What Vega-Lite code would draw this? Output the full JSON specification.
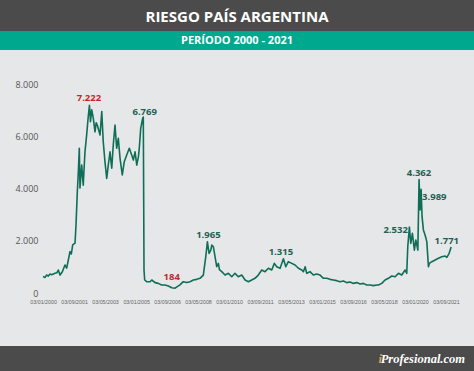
{
  "$schema": "https://vega.github.io/schema/vega-lite/v6.json",
  "background": "#e6e7e9",
  "padding": 0,
  "spacing": 0,
  "config": {"view": {"stroke": null}, "concat": {"spacing": 0}, "axisX": {"labelOverlap": false}},
  "datasets": {
    "riesgo": [
      {"fecha":"2000-01-01","puntos":630},{"fecha":"2000-02-10","puntos":600},{"fecha":"2000-03-12","puntos":690},{"fecha":"2000-04-15","puntos":650},
      {"fecha":"2000-05-16","puntos":730},{"fecha":"2000-06-20","puntos":700},{"fecha":"2000-08-23","puntos":757},{"fecha":"2000-10-01","puntos":780},
      {"fecha":"2000-10-27","puntos":885},{"fecha":"2000-11-30","puntos":690},{"fecha":"2001-01-15","puntos":820},{"fecha":"2001-03-07","puntos":1077},
      {"fecha":"2001-04-10","puntos":960},{"fecha":"2001-05-10","puntos":1250},{"fecha":"2001-06-14","puntos":1590},{"fecha":"2001-07-10","puntos":1500},
      {"fecha":"2001-08-06","puntos":1850},{"fecha":"2001-09-21","puntos":1920},{"fecha":"2001-10-10","puntos":2615},{"fecha":"2001-11-05","puntos":3900},
      {"fecha":"2001-11-25","puntos":4665},{"fecha":"2001-12-14","puntos":5565},{"fecha":"2001-12-27","puntos":4040},{"fecha":"2002-01-30","puntos":4920},
      {"fecha":"2002-03-01","puntos":4150},{"fecha":"2002-04-04","puntos":5430},{"fecha":"2002-05-07","puntos":6075},{"fecha":"2002-06-08","puntos":6800},
      {"fecha":"2002-07-01","puntos":7222},{"fecha":"2002-07-21","puntos":6590},{"fecha":"2002-08-14","puntos":7050},{"fecha":"2002-09-15","puntos":6720},
      {"fecha":"2002-10-18","puntos":6200},{"fecha":"2002-11-10","puntos":6550},{"fecha":"2002-12-02","puntos":6460},{"fecha":"2003-01-25","puntos":6077},
      {"fecha":"2003-02-28","puntos":6975},{"fecha":"2003-03-29","puntos":5820},{"fecha":"2003-05-02","puntos":5050},{"fecha":"2003-06-05","puntos":4410},
      {"fecha":"2003-07-06","puntos":4920},{"fecha":"2003-08-09","puntos":5430},{"fecha":"2003-09-12","puntos":4800},{"fecha":"2003-10-12","puntos":5690},
      {"fecha":"2003-11-15","puntos":6460},{"fecha":"2003-12-18","puntos":5565},{"fecha":"2004-01-19","puntos":5950},{"fecha":"2004-02-22","puntos":5180},
      {"fecha":"2004-04-06","puntos":4540},{"fecha":"2004-05-15","puntos":5050},{"fecha":"2004-07-02","puntos":5310},{"fecha":"2004-08-22","puntos":5565},
      {"fecha":"2004-10-08","puntos":5310},{"fecha":"2004-11-10","puntos":5115},{"fecha":"2004-12-13","puntos":5430},{"fecha":"2005-01-16","puntos":4920},
      {"fecha":"2005-02-17","puntos":5245},{"fecha":"2005-03-06","puntos":5565},{"fecha":"2005-04-03","puntos":6330},{"fecha":"2005-05-12","puntos":6720},
      {"fecha":"2005-05-24","puntos":6769},{"fecha":"2005-06-07","puntos":880},{"fecha":"2005-06-20","puntos":500},{"fecha":"2005-07-29","puntos":435},
      {"fecha":"2005-10-04","puntos":435},{"fecha":"2005-11-06","puntos":500},{"fecha":"2006-01-10","puntos":400},{"fecha":"2006-03-13","puntos":370},
      {"fecha":"2006-05-19","puntos":310},{"fecha":"2006-07-24","puntos":310},{"fecha":"2006-09-28","puntos":270},{"fecha":"2006-12-04","puntos":205},
      {"fecha":"2007-02-07","puntos":184},{"fecha":"2007-03-22","puntos":245},{"fecha":"2007-05-14","puntos":310},{"fecha":"2007-07-18","puntos":435},
      {"fecha":"2007-09-24","puntos":400},{"fecha":"2007-11-28","puntos":435},{"fecha":"2008-02-01","puntos":500},{"fecha":"2008-04-07","puntos":525},
      {"fecha":"2008-06-11","puntos":565},{"fecha":"2008-08-15","puntos":690},{"fecha":"2008-10-02","puntos":1395},{"fecha":"2008-11-03","puntos":1965},
      {"fecha":"2008-12-06","puntos":1525},{"fecha":"2009-01-09","puntos":1650},{"fecha":"2009-01-28","puntos":1845},{"fecha":"2009-02-28","puntos":1780},
      {"fecha":"2009-04-02","puntos":1395},{"fecha":"2009-05-05","puntos":1010},{"fecha":"2009-06-06","puntos":1140},{"fecha":"2009-06-28","puntos":900},
      {"fecha":"2009-08-12","puntos":820},{"fecha":"2009-10-16","puntos":690},{"fecha":"2009-12-20","puntos":757},{"fecha":"2010-02-25","puntos":627},
      {"fecha":"2010-04-29","puntos":757},{"fecha":"2010-07-03","puntos":627},{"fecha":"2010-09-09","puntos":690},{"fecha":"2010-11-13","puntos":500},
      {"fecha":"2011-01-17","puntos":435},{"fecha":"2011-03-23","puntos":500},{"fecha":"2011-05-27","puntos":565},{"fecha":"2011-07-31","puntos":690},
      {"fecha":"2011-10-06","puntos":885},{"fecha":"2011-12-10","puntos":820},{"fecha":"2012-02-14","puntos":950},{"fecha":"2012-04-20","puntos":885},
      {"fecha":"2012-06-10","puntos":1140},{"fecha":"2012-07-27","puntos":1010},{"fecha":"2012-10-01","puntos":950},{"fecha":"2012-12-05","puntos":1315},
      {"fecha":"2013-01-21","puntos":1010},{"fecha":"2013-03-12","puntos":1205},{"fecha":"2013-05-18","puntos":1140},{"fecha":"2013-07-22","puntos":1077},
      {"fecha":"2013-09-26","puntos":950},{"fecha":"2013-12-01","puntos":885},{"fecha":"2014-01-02","puntos":820},{"fecha":"2014-02-05","puntos":1010},
      {"fecha":"2014-03-08","puntos":757},{"fecha":"2014-05-12","puntos":820},{"fecha":"2014-07-16","puntos":690},{"fecha":"2014-09-21","puntos":730},
      {"fecha":"2014-11-25","puntos":690},{"fecha":"2015-01-30","puntos":565},{"fecha":"2015-04-05","puntos":565},{"fecha":"2015-06-09","puntos":525},
      {"fecha":"2015-08-13","puntos":500},{"fecha":"2015-10-19","puntos":475},{"fecha":"2015-12-23","puntos":435},{"fecha":"2016-02-27","puntos":460},
      {"fecha":"2016-05-02","puntos":400},{"fecha":"2016-07-06","puntos":420},{"fecha":"2016-09-10","puntos":370},{"fecha":"2016-11-16","puntos":400},
      {"fecha":"2017-01-20","puntos":345},{"fecha":"2017-03-24","puntos":370},{"fecha":"2017-05-30","puntos":310},{"fecha":"2017-08-04","puntos":310},
      {"fecha":"2017-10-08","puntos":285},{"fecha":"2017-12-14","puntos":310},{"fecha":"2018-01-15","puntos":310},{"fecha":"2018-03-21","puntos":370},
      {"fecha":"2018-05-25","puntos":500},{"fecha":"2018-07-29","puntos":565},{"fecha":"2018-10-04","puntos":655},{"fecha":"2018-12-08","puntos":627},
      {"fecha":"2019-02-12","puntos":757},{"fecha":"2019-04-18","puntos":690},{"fecha":"2019-06-22","puntos":885},{"fecha":"2019-07-25","puntos":757},
      {"fecha":"2019-08-14","puntos":1780},{"fecha":"2019-09-15","puntos":2532},{"fecha":"2019-10-12","puntos":1910},{"fecha":"2019-11-13","puntos":2295},
      {"fecha":"2019-12-22","puntos":1650},{"fecha":"2020-01-19","puntos":2040},{"fecha":"2020-02-28","puntos":1650},{"fecha":"2020-03-23","puntos":4362},
      {"fecha":"2020-04-12","puntos":3190},{"fecha":"2020-05-02","puntos":3989},{"fecha":"2020-05-21","puntos":2935},{"fecha":"2020-06-16","puntos":2425},
      {"fecha":"2020-07-19","puntos":2230},{"fecha":"2020-08-22","puntos":1975},{"fecha":"2020-09-23","puntos":1010},{"fecha":"2020-10-12","puntos":1140},
      {"fecha":"2020-11-29","puntos":1205},{"fecha":"2021-02-03","puntos":1270},{"fecha":"2021-04-07","puntos":1335},{"fecha":"2021-06-13","puntos":1395},
      {"fecha":"2021-08-17","puntos":1420},{"fecha":"2021-09-20","puntos":1370},{"fecha":"2021-11-04","puntos":1525},{"fecha":"2021-12-13","puntos":1771}
    ],
    "etiquetas": [
      {"fecha":"2002-06-21","ancla":7500,"etiqueta":"7.222","tipo":"extremo"},
      {"fecha":"2005-06-20","ancla":6973,"etiqueta":"6.769","tipo":"destacado"},
      {"fecha":"2006-12-04","ancla":627,"etiqueta":"184","tipo":"extremo"},
      {"fecha":"2008-11-22","ancla":2219,"etiqueta":"1.965","tipo":"destacado"},
      {"fecha":"2012-10-16","ancla":1565,"etiqueta":"1.315","tipo":"destacado"},
      {"fecha":"2018-12-19","ancla":2423,"etiqueta":"2.532","tipo":"destacado"},
      {"fecha":"2020-03-22","ancla":4627,"etiqueta":"4.362","tipo":"destacado"},
      {"fecha":"2021-01-16","ancla":3704,"etiqueta":"3.989","tipo":"destacado"},
      {"fecha":"2021-09-19","ancla":2011,"etiqueta":"1.771","tipo":"destacado"}
    ],
    "cuadricula": [{"nivel":0},{"nivel":2000},{"nivel":4000},{"nivel":6000},{"nivel":8000}]
  },
  "vconcat": [
    {
      "width": 474, "height": 31,
      "view": {"fill": "#4b4b4b", "stroke": null},
      "data": {"values": [{"t": "RIESGO PAÍS ARGENTINA"}]},
      "mark": {"type": "text", "font": "Open Sans", "fontWeight": 700, "fontSize": 15, "color": "#ffffff", "baseline": "middle", "dy": 1},
      "encoding": {"text": {"field": "t"}}
    },
    {
      "width": 474, "height": 19,
      "view": {"fill": "#00a88e", "stroke": null},
      "data": {"values": [{"t": "PERÍODO 2000 - 2021"}]},
      "mark": {"type": "text", "font": "Open Sans", "fontWeight": 700, "fontSize": 11, "color": "#ffffff", "baseline": "middle", "dy": 0},
      "encoding": {"text": {"field": "t"}}
    },
    {
      "spacing": 41,
      "vconcat": [
        {
          "width": 474, "height": 243,
          "view": {"fill": "#e6e7e9", "stroke": null},
          "encoding": {
            "x": {"field": "fecha", "type": "temporal",
              "scale": {"domain": ["1997-09-08", "2023-03-07"]},
              "axis": {"title": null, "grid": false, "ticks": false, "domain": false,
                "values": [{"year":2000,"month":1,"date":3},{"year":2001,"month":9,"date":3},{"year":2003,"month":5,"date":3},{"year":2005,"month":1,"date":3},{"year":2006,"month":9,"date":3},{"year":2008,"month":5,"date":3},{"year":2010,"month":1,"date":3},{"year":2011,"month":9,"date":3},{"year":2013,"month":5,"date":3},{"year":2015,"month":1,"date":3},{"year":2016,"month":9,"date":3},{"year":2018,"month":5,"date":3},{"year":2020,"month":1,"date":3},{"year":2021,"month":9,"date":3}],
                "format": "%d/%m/%Y", "labelFont": "Liberation Sans", "labelFontSize": 5.3, "labelColor": "#666666", "labelPadding": 6, "labelAngle": 0, "labelOverlap": false, "labelFlush": false, "labelBound": false}},
            "y": {"field": "puntos", "type": "quantitative",
              "scale": {"domain": [0, 9346], "nice": false},
              "axis": {"title": null, "values": [0, 2000, 4000, 6000, 8000], "grid": false, "domain": false, "ticks": false, "offset": -43,
                "labelExpr": "replace(format(datum.value, ','), ',', '.')", "labelFont": "Open Sans", "labelFontSize": 9, "labelColor": "#555555", "labelPadding": 5}}
          },
          "layer": [
            {
              "data": {"name": "cuadricula"},
              "mark": {"type": "rule", "strokeWidth": 1},
              "encoding": {
                "x": {"datum": {"year": 2000, "month": 1, "date": 1}, "type": "temporal"},
                "x2": {"datum": {"year": 2021, "month": 12, "date": 31}},
                "y": {"field": "nivel", "type": "quantitative"},
                "color": {"condition": {"test": "datum.nivel === 0", "value": "#b3b3b3"}, "value": "#c8c8c8"}
              }
            },
            {
              "data": {"name": "riesgo"},
              "mark": {"type": "line", "color": "#0f6e57", "strokeWidth": 1.6, "strokeJoin": "round"}
            },
            {
              "data": {"name": "etiquetas"},
              "mark": {"type": "text", "font": "Open Sans", "fontWeight": 700, "fontSize": 9.5, "baseline": "middle", "align": "center"},
              "encoding": {
                "y": {"field": "ancla", "type": "quantitative"},
                "text": {"field": "etiqueta"},
                "color": {"field": "tipo", "type": "nominal", "scale": {"domain": ["extremo", "destacado"], "range": ["#c1272d", "#1f6153"]}, "legend": null}
              }
            }
          ]
        },
        {
          "width": 474, "height": 25,
          "view": {"fill": "#4b4b4b", "stroke": null},
          "data": {"values": [{"marca": "Profesional.com", "inicial": "i"}]},
          "layer": [
            {"mark": {"type": "text", "x": "width", "align": "right", "dx": -9, "baseline": "middle", "font": "Liberation Serif", "fontStyle": "italic", "fontWeight": 700, "fontSize": 12.5, "color": "#ffffff"},
             "encoding": {"text": {"field": "marca"}}},
            {"mark": {"type": "text", "x": "width", "align": "right", "dx": -92, "baseline": "middle", "font": "Liberation Serif", "fontStyle": "italic", "fontWeight": 700, "fontSize": 12.5, "color": "#d9a441"},
             "encoding": {"text": {"field": "inicial"}}}
          ]
        }
      ]
    }
  ]
}
